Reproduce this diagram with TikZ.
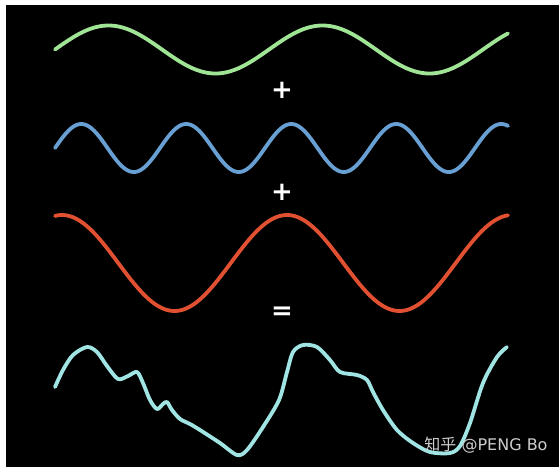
\documentclass[tikz,border=0pt]{standalone}
\usepackage{fontspec}
\setmainfont{DejaVu Sans}
\newfontfamily\cjkfont{Noto Sans CJK SC}
\definecolor{wgreen}{RGB}{160,228,150}
\definecolor{wblue}{RGB}{104,160,212}
\definecolor{wred}{RGB}{226,80,50}
\definecolor{wcyan}{RGB}{160,228,228}
\definecolor{wmark}{RGB}{205,205,205}
\tikzset{
  wave/.style={line width=3.8pt, line cap=round, line join=round},
  sign/.style={text=white, font=\fontsize{26}{26}\selectfont\bfseries, inner sep=0pt},
}
\begin{document}
\begin{tikzpicture}[x=1pt,y=-1pt]
\useasboundingbox (0,0) rectangle (559,467);
\fill[white] (0,0) rectangle (559,467);
\fill[black] (6,5) rectangle (559,467);
% green wave
\draw[wave, wgreen] plot[domain=55:508, samples=200] (\x, {49.5 - 24*sin((\x-55)/214*360)});
% blue wave
\draw[wave, wblue] plot[domain=55:508, samples=300] (\x, {148 - 24*sin((\x-55)/105*360)});
% red wave
\draw[wave, wred] plot[domain=55:508, samples=200] (\x, {263 - 48*cos((\x-287)/225*360)});
% composite
\draw[wave, wcyan] plot[smooth, tension=0.5] coordinates {
 (55,387) (63,370) (73,355) (87,347) (97,352) (107,366) (118,379) (128,376) (137,372)
 (143,383) (150,400) (157,409) (163,404) (167,402) (172,410) (180,419) (190,424) (200,430) (220,443)
 (237,455) (247,450) (263,427) (279,400) (287,372) (293,352) (303,345) (317,347)
 (330,360) (340,372) (357,375) (367,380) (373,392) (383,410) (397,430) (413,443)
 (430,452) (450,453) (460,446) (470,423) (483,383) (497,357) (507,347)};
% signs
\node[sign] (plusA) at (282,90) {+};
\node[sign] (plusB) at (282,192) {+};
\node[sign] (eq) at (282,313) {=};
% watermark
\node[text=wmark, font=\fontsize{16}{16}\selectfont, inner sep=0pt] (mark) at (486,445) {{\cjkfont 知乎} @PENG Bo};
\end{tikzpicture}
\end{document}
